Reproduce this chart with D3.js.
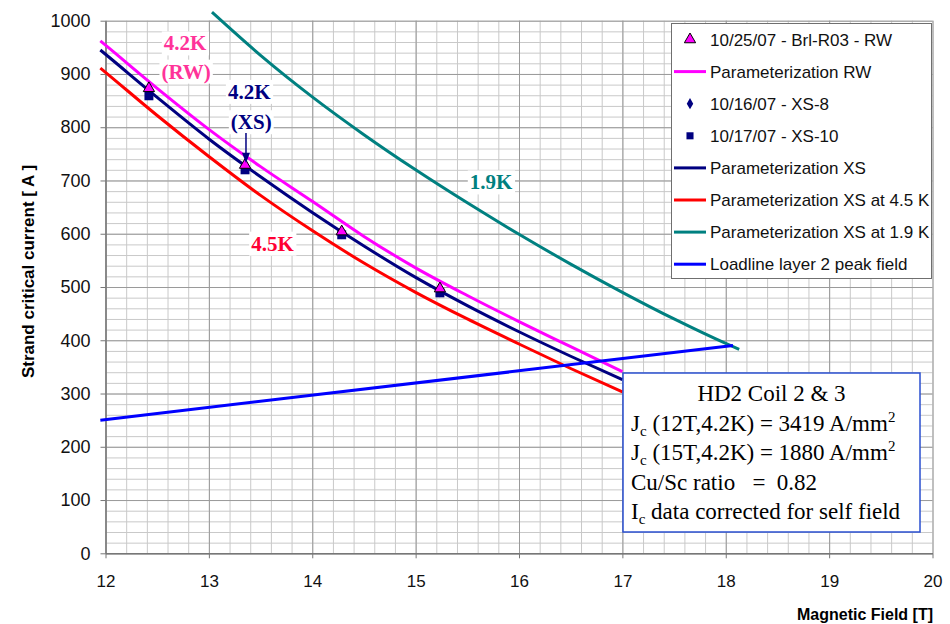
<!DOCTYPE html>
<html>
<head>
<meta charset="utf-8">
<script src="https://cdn.jsdelivr.net/npm/d3@7"></script>
<style>
  body { margin: 0; background: #fff; }
  svg { display: block; font-family: Arial, "Liberation Sans", sans-serif; }
</style>
</head>
<body>
<svg id="chart" width="950" height="624"></svg>
<script>
// --- DATA ---
const paramB    = [11.95, 12.0, 12.5, 13.0, 13.5, 14.0, 14.5, 15.0, 15.5, 16.0, 16.5, 17.0];
const paramRW   = [962, 954, 873, 796, 726, 661, 595, 536, 484, 435, 388, 341];
const paramXS   = [945, 937, 856, 778, 707, 640, 577, 518, 465, 416, 370, 326];
const paramXS45 = [911, 903, 822, 745, 672, 606, 545, 490, 440, 393, 347, 303];

const param19B  = [13.03, 13.5, 14.0, 14.5, 15.0, 15.5, 16.0, 16.5, 17.0, 17.5, 18.0, 18.13];
const paramXS19 = [1016, 935, 857, 786, 720, 658, 599, 543, 490, 440, 394, 383];

const loadB = [11.95, 18.07];
const loadI = [250, 390];

const sampleB = [12.42, 13.35, 14.285, 15.235];
const rwI     = [873, 729, 604, 497];
const xs8I    = [862, 724, 600, 491];
const xs10I   = [859, 720, 598, 489];

const legendLabels = [
  "10/25/07 - Brl-R03 - RW",
  "Parameterization RW",
  "10/16/07 - XS-8",
  "10/17/07 - XS-10",
  "Parameterization XS",
  "Parameterization XS at 4.5 K",
  "Parameterization XS at 1.9 K",
  "Loadline layer 2 peak field"
];

const xTicks = [12, 13, 14, 15, 16, 17, 18, 19, 20];
const yTicks = [0, 100, 200, 300, 400, 500, 600, 700, 800, 900, 1000];

// --- COLOURS ---
const cRW = "#ff00ff", cXS = "#000080", c45 = "#ff0000", c19 = "#008080", cLoad = "#0000ff";

// --- SETUP ---
const svg = d3.select("#chart");
const x = d3.scaleLinear().domain([12, 20]).range([105.5, 932.5]);
const y = d3.scaleLinear().domain([0, 1000]).range([553.3, 20.7]);
const plotH = y(0) - y(1000);

// minor + major gridlines
const minorX = d3.range(12, 20.001, 0.2);
const minorY = d3.range(0, 1000.1, 20);

function grid(axis, tr, color) {
    svg.append("g")
        .attr("transform", tr)
        .call(axis)
        .call(g => g.select(".domain").remove())
        .selectAll("line").attr("stroke", color).attr("stroke-width", 1);
}
grid(d3.axisBottom(x).tickValues(minorX).tickSize(-plotH).tickFormat(""), `translate(0,${y(0)})`, "#c9c9c9");
grid(d3.axisLeft(y).tickValues(minorY).tickSize(-(x(20) - x(12))).tickFormat(""), `translate(${x(12)},0)`, "#c9c9c9");
grid(d3.axisBottom(x).tickValues(xTicks).tickSize(-plotH).tickFormat(""), `translate(0,${y(0)})`, "#9a9a9a");
grid(d3.axisLeft(y).tickValues(yTicks).tickSize(-(x(20) - x(12))).tickFormat(""), `translate(${x(12)},0)`, "#9a9a9a");

// axes
const xAxis = svg.append("g")
    .attr("transform", `translate(0,${y(0)})`)
    .call(d3.axisBottom(x).tickValues(xTicks).tickSize(5).tickPadding(17).tickSizeOuter(0).tickFormat(d3.format("d")));
const yAxis = svg.append("g")
    .attr("transform", `translate(${x(12)},0)`)
    .call(d3.axisLeft(y).tickValues(yTicks).tickSize(5).tickPadding(10).tickSizeOuter(0).tickFormat(d3.format("d")));
[xAxis, yAxis].forEach(a => {
    a.select(".domain").attr("stroke", "#777").attr("stroke-width", 1.5);
    a.selectAll(".tick line").attr("stroke", "#777");
    a.selectAll(".tick text").attr("fill", "#111").style("font-family", "Arial, 'Liberation Sans', sans-serif");
});
xAxis.selectAll(".tick text").style("font-size", "17px");
yAxis.selectAll(".tick text").style("font-size", "18px");

// axis titles
svg.append("text")
    .attr("x", 933).attr("y", 620)
    .attr("text-anchor", "end")
    .style("font-size", "16px").style("font-weight", "bold")
    .text("Magnetic Field [T]");
svg.append("text")
    .attr("transform", "translate(28,271.5) rotate(-90)")
    .attr("text-anchor", "middle").attr("dy", "0.35em")
    .style("font-size", "17px").style("font-weight", "bold")
    .text("Strand critical current [ A ]");

// --- LINES ---
const line = d3.line().x(d => x(d[0])).y(d => y(d[1])).curve(d3.curveMonotoneX);
const series = [
    { b: paramB, v: paramRW, color: cRW },
    { b: paramB, v: paramXS, color: cXS },
    { b: paramB, v: paramXS45, color: c45 },
    { b: param19B, v: paramXS19, color: c19 },
    { b: loadB, v: loadI, color: cLoad }
];
svg.append("g").selectAll("path")
    .data(series)
    .enter().append("path")
    .attr("d", s => line(s.b.map((b, i) => [b, s.v[i]])))
    .attr("fill", "none")
    .attr("stroke", s => s.color)
    .attr("stroke-width", 3);

// --- MARKERS ---
const tri = d3.symbol().type(d3.symbolTriangle).size(55);
const sq = d3.symbol().type(d3.symbolSquare).size(80);
const dia = d3.symbol().type(d3.symbolDiamond).size(36);

svg.append("g").selectAll("path")
    .data(sampleB.map((b, i) => [b, xs8I[i]]))
    .enter().append("path")
    .attr("d", dia).attr("transform", d => `translate(${x(d[0])},${y(d[1])})`)
    .attr("fill", cXS);
svg.append("g").selectAll("path")
    .data(sampleB.map((b, i) => [b, xs10I[i]]))
    .enter().append("path")
    .attr("d", sq).attr("transform", d => `translate(${x(d[0])},${y(d[1])})`)
    .attr("fill", cXS);
svg.append("g").selectAll("path")
    .data(sampleB.map((b, i) => [b, rwI[i]]))
    .enter().append("path")
    .attr("d", tri).attr("transform", d => `translate(${x(d[0])},${y(d[1])})`)
    .attr("fill", cRW).attr("stroke", "#000").attr("stroke-width", 1);

// --- ANNOTATIONS ---
const notes = [
    { t: "4.2K", b: 12.77, i: 958, color: "#ff3399" },
    { t: "(RW)", b: 12.78, i: 905, color: "#ff3399" },
    { t: "4.2K", b: 13.39, i: 867, color: cXS },
    { t: "(XS)", b: 13.41, i: 810, color: cXS },
    { t: "1.9K", b: 15.73, i: 697, color: c19 },
    { t: "4.5K", b: 13.615, i: 582, color: "#ff0033" }
];
notes.forEach(n => {
    const g = svg.append("g");
    const txt = g.append("text")
        .attr("x", x(n.b)).attr("y", y(n.i)).attr("dy", "0.35em")
        .attr("text-anchor", "middle")
        .attr("fill", n.color)
        .style("font-family", "'Times New Roman', 'Liberation Serif', serif")
        .style("font-size", "21px").style("font-weight", "bold")
        .text(n.t);
    const bb = txt.node().getBBox();
    g.insert("rect", "text")
        .attr("x", bb.x - 2).attr("y", bb.y).attr("width", bb.width + 4).attr("height", bb.height)
        .attr("fill", "#fff");
});

// arrow from "(XS)" down to the data point
svg.append("line")
    .attr("x1", x(13.359)).attr("y1", y(789))
    .attr("x2", x(13.359)).attr("y2", y(745))
    .attr("stroke", cXS).attr("stroke-width", 1.5);
svg.append("path")
    .attr("d", `M${x(13.359) - 4},${y(752)}L${x(13.359) + 4},${y(752)}L${x(13.359)},${y(733)}Z`)
    .attr("fill", cXS);

// --- LEGEND ---
const legend = svg.append("g");
legend.append("rect")
    .attr("x", 671.5).attr("y", 23.5).attr("width", 260).attr("height", 255)
    .attr("fill", "#fff").attr("stroke", "#6f6f6f").attr("stroke-width", 1);
const kinds = ["triangle", "line", "diamond", "square", "line", "line", "line", "line"];
const lColors = [cRW, cRW, cXS, cXS, cXS, c45, c19, cLoad];
legendLabels.forEach((lab, i) => {
    const cy = 39.5 + i * 32.1;
    if (kinds[i] === "line") {
        legend.append("line")
            .attr("x1", 674).attr("x2", 706).attr("y1", cy).attr("y2", cy)
            .attr("stroke", lColors[i]).attr("stroke-width", 3);
    } else {
        const sym = kinds[i] === "triangle" ? tri : kinds[i] === "square" ? d3.symbol().type(d3.symbolSquare).size(50) : dia;
        const p = legend.append("path").attr("d", sym)
            .attr("transform", `translate(690,${cy})`).attr("fill", lColors[i]);
        if (kinds[i] === "triangle") p.attr("stroke", "#000").attr("stroke-width", 1);
    }
    legend.append("text")
        .attr("x", 710).attr("y", cy).attr("dy", "0.36em")
        .style("font-size", "17px").attr("fill", "#111")
        .text(lab);
});

// --- TEXT BOX ---
const box = svg.append("g")
    .style("font-family", "'Times New Roman', 'Liberation Serif', serif")
    .style("font-size", "23px");
box.append("rect")
    .attr("x", 623).attr("y", 373).attr("width", 297).attr("height", 159)
    .attr("fill", "#fff").attr("stroke", "#2a4fd0").attr("stroke-width", 1.5);

const boxLines = [
    [["HD2 Coil 2 & 3", ""]],
    [["J", ""], ["c", "sub"], [" (12T,4.2K) = 3419 A/mm", ""], ["2", "sup"]],
    [["J", ""], ["c", "sub"], [" (15T,4.2K) = 1880 A/mm", ""], ["2", "sup"]],
    [["Cu/Sc ratio   =  0.82", ""]],
    [["I", ""], ["c", "sub"], [" data corrected for self field", ""]]
];
boxLines.forEach((parts, i) => {
    const t = box.append("text")
        .attr("x", i === 0 ? 771.5 : 631)
        .attr("y", 401 + i * 29.5)
        .attr("text-anchor", i === 0 ? "middle" : "start")
        .attr("fill", "#000")
        .style("white-space", "pre");
    let shift = 0;
    parts.forEach(([s, mode]) => {
        const target = mode === "sub" ? 5 : mode === "sup" ? -9 : 0;
        t.append("tspan")
            .attr("dy", target - shift)
            .style("font-size", mode ? "15px" : null)
            .text(s);
        shift = target;
    });
});
</script>
</body>
</html>
